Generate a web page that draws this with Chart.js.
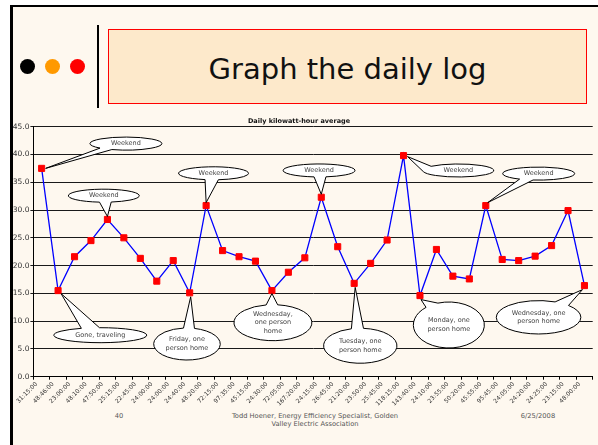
<!DOCTYPE html>
<html>
<head>
<meta charset="utf-8">
<title>Graph the daily log</title>
<script src="https://cdn.jsdelivr.net/npm/chart.js@4.4.0/dist/chart.umd.min.js"></script>
<style>
  html, body { margin: 0; padding: 0; width: 598px; height: 445px; overflow: hidden; background: #fff; font-family: "DejaVu Sans", sans-serif; }
  .abs { position: absolute; }
  #slide { left: 10px; top: 5px; width: 600px; height: 450px; background: #fef8ef; border-left: 3px solid #000; border-top: 2px solid #000; }
  .dot { width: 15px; height: 15px; border-radius: 50%; top: 59px; }
  #vline { left: 97px; top: 25px; width: 2px; height: 83px; background: #000; }
  #titlebox { left: 108px; top: 29px; width: 479px; height: 75px; box-sizing: border-box; border: 1px solid #f00; background: #fde9cb;
              text-align: center; font-size: 29px; line-height: 73px; padding-top: 3px; color: #111; }
  .foot { font-size: 6.7px; color: #555; line-height: 8px; text-align: center; }
  #chartWrap { left: 0; top: 100px; width: 598px; height: 340px; }
</style>
</head>
<body>
<div id="slide" class="abs"></div>
<div class="abs dot" style="left:20px;background:#000"></div>
<div class="abs dot" style="left:45px;background:#ff9900"></div>
<div class="abs dot" style="left:70px;background:#ff0000"></div>
<div id="vline" class="abs"></div>
<div id="titlebox" class="abs">Graph the daily log</div>

<div class="abs foot" style="left:99px;top:412px;width:40px">40</div>
<div class="abs foot" style="left:215px;top:412px;width:200px">Todd Hoener, Energy Efficiency Specialist, Golden<br>Valley Electric Association</div>
<div class="abs foot" style="left:508px;top:412px;width:60px">6/25/2008</div>

<div id="chartWrap" class="abs"><canvas id="kwhChart"></canvas></div>

<script>
// elapsed time between meter readings (category labels)
const labels = ['31:15:00','48:46:00','23:00:00','48:10:00','47:50:00','25:15:00','22:45:00','24:00:00','24:00:00','24:40:00',
  '48:20:00','72:15:00','97:35:00','45:15:00','24:30:00','72:05:00','167:20:00','24:15:00','26:45:00','21:20:00',
  '23:50:00','25:45:00','118:15:00','143:40:00','24:10:00','23:55:00','50:20:00','45:55:00','95:45:00','24:05:00',
  '24:20:00','24:25:00','23:15:00','48:00:00'];

// daily kWh average
const values = [37.5, 15.5, 21.6, 24.5, 28.3, 25.0, 21.3, 17.2, 20.9, 15.1,
  30.8, 22.7, 21.6, 20.8, 15.5, 18.8, 21.4, 32.3, 23.4, 16.8,
  20.4, 24.6, 39.8, 14.6, 22.9, 18.1, 17.6, 30.8, 21.1, 20.9,
  21.7, 23.6, 29.9, 16.4];

const yTicks = [0, 5, 10, 15, 20, 25, 30, 35, 40, 45];

// callout notes: which point they point at and what they say
const calloutIndex = [0, 4, 1, 9, 14, 19, 10, 17, 22, 27, 23, 33];
const calloutText = [
  ['Weekend'], ['Weekend'], ['Gone, traveling'], ['Friday, one', 'person home'],
  ['Wednesday,', 'one person', 'home'], ['Tuesday, one', 'person home'],
  ['Weekend'], ['Weekend'], ['Weekend'], ['Weekend'],
  ['Monday, one', 'person home'], ['Wednesday, one', 'person home']
];

// bubble placement relative to its point (px), pointer angles in degrees
const calloutShape = [
  { dx: 84.3, dy: -24.8, rx: 36, ry: 6.5, t1: 113, t2: 136, tip: [4, 0] },
  { dx: -3.6, dy: -23.8, rx: 35.5, ry: 6.5, t1: 78, t2: 97, tip: [0, -3] },
  { dx: 42.2, dy: 44.6, rx: 46.5, ry: 7.5, t1: -114, t2: -91, tip: [3, 3] },
  { dx: -2.7, dy: 51.2, rx: 33.3, ry: 16, t1: -96, t2: -77, tip: [1, 4] },
  { dx: 1, dy: 32.1, rx: 39, ry: 18, t1: -100, t2: -83, tip: [0, 3] },
  { dx: 6.1, dy: 62.4, rx: 36.7, ry: 17.5, t1: -104, t2: -85, tip: [1, 4] },
  { dx: 7.4, dy: -32.3, rx: 35, ry: 6.5, t1: 82, t2: 104, tip: [0, -3] },
  { dx: -2.2, dy: -26.8, rx: 36, ry: 6.5, t1: 79, t2: 98, tip: [0, -3] },
  { dx: 54.8, dy: 14.9, rx: 35.5, ry: 6.5, t1: 170, t2: 220, tip: [4, 1] },
  { dx: 52.9, dy: -32, rx: 36, ry: 6.5, t1: 99, t2: 122, tip: [2, -3] },
  { dx: 28.9, dy: 29.4, rx: 35.5, ry: 23, t1: -130, t2: -108, tip: [1, 4] },
  { dx: -45.9, dy: 31.7, rx: 42.3, ry: 16.7, t1: -67, t2: -45, tip: [-2, 4] }
];

const calloutPlugin = {
  id: 'callouts',
  afterDatasetsDraw(chart) {
    const { ctx, scales: { x, y } } = chart;
    const rad = Math.PI / 180;
    ctx.save();
    calloutIndex.forEach((idx, k) => {
      const c = calloutShape[k];
      const px = x.getPixelForValue(idx);
      const py = y.getPixelForValue(values[idx]);
      const cx = px + c.dx, cy = py + c.dy;
      ctx.beginPath();
      ctx.ellipse(cx, cy, c.rx, c.ry, 0, c.t2 * rad, (c.t1 + 360) * rad);
      ctx.lineTo(px + c.tip[0], py + c.tip[1]);
      ctx.closePath();
      ctx.fillStyle = '#fff';
      ctx.fill();
      ctx.strokeStyle = '#000';
      ctx.lineWidth = 1;
      ctx.stroke();

      const lines = calloutText[k];
      const lh = 8.5;
      ctx.fillStyle = '#444';
      ctx.font = '6.5px "DejaVu Sans", sans-serif';
      ctx.textAlign = 'center';
      ctx.textBaseline = 'middle';
      lines.forEach((t, i) => {
        ctx.fillText(t, cx, cy + (i - (lines.length - 1) / 2) * lh);
      });
    });
    ctx.restore();
  }
};

document.addEventListener('DOMContentLoaded', () => {
  const canvas = document.getElementById('kwhChart');
  Chart.defaults.font.family = '"DejaVu Sans", sans-serif';

  new Chart(canvas.getContext('2d'), {
    type: 'line',
    data: {
      labels: labels,
      datasets: [{
        label: 'Daily kilowatt-hour average',
        data: values,
        borderColor: '#0000ff',
        borderWidth: 1.3,
        tension: 0,
        pointStyle: 'rect',
        pointRadius: 4.3,
        pointHoverRadius: 4.3,
        pointBackgroundColor: '#ff0000',
        pointBorderColor: '#ff0000',
        pointBorderWidth: 1
      }]
    },
    options: {
      responsive: true,
      maintainAspectRatio: false,
      animation: false,
      devicePixelRatio: 1,
      layout: { padding: { top: 17.1, left: 0, right: 0, bottom: 0 } },
      plugins: {
        legend: { display: false },
        tooltip: { enabled: false },
        title: {
          display: true,
          text: 'Daily kilowatt-hour average',
          color: '#111',
          font: { size: 6.5, weight: 'bold' },
          padding: { top: 0, bottom: 1.8 }
        }
      },
      scales: {
        x: {
          type: 'category',
          offset: true,
          grid: { offset: true, drawOnChartArea: false, color: '#000', tickLength: 3 },
          border: { color: '#000', width: 1 },
          ticks: {
            autoSkip: false, maxRotation: 45, minRotation: 45,
            font: { size: 6 }, color: '#333', padding: 1, labelOffset: -5
          },
          afterFit(scale) { scale.height = 63.3; }
        },
        y: {
          min: 0, max: 45,
          afterBuildTicks(scale) { scale.ticks = yTicks.map(v => ({ value: v })); },
          grid: { color: '#1a1a1a', lineWidth: 1, tickLength: 3 },
          border: { color: '#000', width: 1 },
          ticks: {
            font: { size: 7.5 }, color: '#333', padding: 1,
            callback: v => Number(v).toFixed(1)
          },
          afterFit(scale) { scale.width = 33.4; }
        }
      }
    },
    plugins: [calloutPlugin]
  });
});
</script>
</body>
</html>
